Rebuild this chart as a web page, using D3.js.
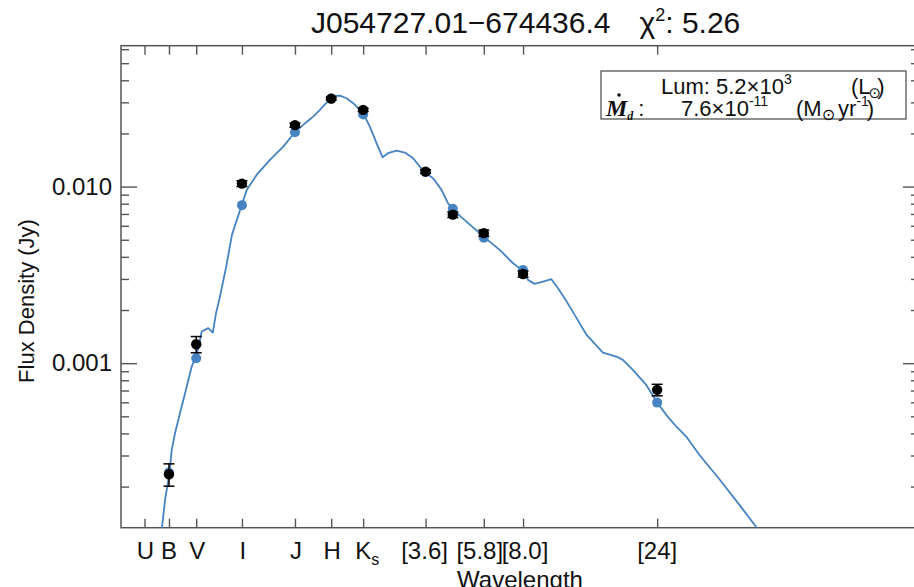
<!DOCTYPE html>
<html>
<head>
<meta charset="utf-8">
<script src="https://cdn.jsdelivr.net/npm/d3@7"></script>
<style>
  html, body { margin: 0; padding: 0; background: #fff; }
  svg { display: block; font-family: "Liberation Sans", Arial, Helvetica, sans-serif; }
</style>
</head>
<body>
<script>
// Photometric bands (observed) and SED model for J054727.01-674436.4
const bands      = ["B", "V", "I", "J", "H", "Ks", "[3.6]", "[4.5]", "[5.8]", "[8.0]", "[24]"];
const bandWave   = [0.44, 0.55, 0.80, 1.235, 1.662, 2.159, 3.6, 4.5, 5.8, 8.0, 24];
const obsFlux    = [2.35e-4, 1.28e-3, 0.0104, 0.0223, 0.0315, 0.0272, 0.01216, 0.00694, 0.00545, 0.00320, 7.06e-4];
const obsErr     = [3.4e-5, 1.35e-4, 4.0e-4, 6.0e-4, 6.0e-4, 6.0e-4, 3.0e-4, 2.5e-4, 2.2e-4, 1.3e-4, 5.3e-5];
const modelFlux  = [2.40e-4, 1.066e-3, 0.00785, 0.0203, 0.0315, 0.0256, 0.0121, 0.00748, 0.00514, 0.00337, 5.98e-4];

// Axis tick labels (band names at their effective wavelengths, microns)
const tickLabels = ["U", "B", "V", "I", "J", "H", "K", "[3.6]", "[5.8]", "[8.0]", "[24]"];
const tickWaves  = [0.36, 0.44, 0.55, 0.80, 1.235, 1.662, 2.159, 3.6, 5.8, 8.0, 24];
const yMajor     = [0.001, 0.010];
const yMajorText = ["0.001", "0.010"];

// Model spectrum sampled in wavelength (micron) and flux (Jy)
const modelWave  = [0.411,0.426,0.441,0.450,0.4625,0.482,0.509,0.530,0.545,0.560,0.575,0.607,0.630,0.647,0.664,0.702,0.737,0.798,0.832,0.902,1.006,1.122,1.235,1.321,1.396,1.434,1.515,1.600,1.689,1.784,1.885,1.989,2.159,2.281,2.409,2.530,2.649,2.837,3.038,3.251,3.548,3.828,4.102,4.328,4.487,5.031,5.845,6.607,7.367,7.931,8.330,8.800,9.417,10.09,10.65,11.34,12.21,13.47,15.39,17.17,18.12,19.67,21.95,24.01,25.85,28.05,30.45,33.95,39.98,47.1,54.27,57.8];
const modelCurve = [1.0e-4,1.68e-4,2.33e-4,3.23e-4,4.02e-4,5.24e-4,7.37e-4,9.57e-4,1.067e-3,1.216e-3,1.51e-3,1.58e-3,1.49e-3,1.92e-3,2.28e-3,3.47e-3,5.33e-3,7.85e-3,9.58e-3,0.01165,0.01417,0.01684,0.0203,0.02235,0.02408,0.02491,0.02718,0.0299,0.03264,0.03277,0.03166,0.02967,0.02603,0.02186,0.01761,0.01467,0.01546,0.01599,0.01558,0.01448,0.01216,0.01116,0.00958,0.00805,0.00745,0.00633,0.00514,0.00438,0.00368,0.003376,0.002963,0.002812,0.002897,0.002989,0.002659,0.002283,0.001877,0.001445,0.001148,0.00109,0.001044,9.16e-4,7.53e-4,5.98e-4,5.1e-4,4.38e-4,3.84e-4,3.02e-4,2.2e-4,1.576e-4,1.17e-4,1.0e-4];

const W = 914, H = 587;
const plot = { left: 121, right: 919, top: 45.7, bottom: 527.7 };
const axisColor = "#555";
const blue = "#4683c0";

const svg = d3.select("body").append("svg").attr("width", W).attr("height", H);

const x = d3.scaleLog().domain([0.297, 205]).range([plot.left, plot.right]);
const y = d3.scaleLog().domain([1.17e-4, 0.0628]).range([plot.bottom, plot.top]);

svg.append("defs").append("clipPath").attr("id", "plotClip")
  .append("rect")
  .attr("x", plot.left).attr("y", plot.top)
  .attr("width", plot.right - plot.left).attr("height", plot.bottom - plot.top);

// Minor y ticks: 2..9 times each decade
const yMinor = [];
[1e-4, 1e-3, 1e-2].forEach(dec => { for (let k = 2; k <= 9; k++) yMinor.push(k * dec); });
const yMinorIn = yMinor.filter(v => v > y.domain()[0] && v < y.domain()[1]);

function styleAxis(g) {
  g.select(".domain").remove();
  g.selectAll(".tick line").attr("stroke", axisColor).attr("stroke-width", 1.4);
}

// Left axis
svg.append("g").attr("transform", `translate(${plot.left},0)`)
  .call(d3.axisLeft(y).tickValues(yMinorIn).tickSize(-8).tickFormat(""))
  .call(styleAxis);
svg.append("g").attr("transform", `translate(${plot.left},0)`)
  .call(d3.axisLeft(y).tickValues(yMajor).tickSize(-16).tickPadding(9)
        .tickFormat((d, i) => yMajorText[i]))
  .call(styleAxis)
  .call(g => g.selectAll("text").attr("font-size", 24).attr("fill", "#111")
        .attr("font-family", "'Liberation Sans', Arial, sans-serif"));

// Right axis
svg.append("g").attr("transform", `translate(${plot.right},0)`)
  .call(d3.axisRight(y).tickValues(yMinorIn).tickSize(-8).tickFormat(""))
  .call(styleAxis);
svg.append("g").attr("transform", `translate(${plot.right},0)`)
  .call(d3.axisRight(y).tickValues(yMajor).tickSize(-16).tickFormat(""))
  .call(styleAxis);

// Bottom and top axes (band positions)
svg.append("g").attr("transform", `translate(0,${plot.bottom})`)
  .call(d3.axisBottom(x).tickValues(tickWaves).tickSize(-9).tickFormat(""))
  .call(styleAxis);
svg.append("g").attr("transform", `translate(0,${plot.top})`)
  .call(d3.axisTop(x).tickValues(tickWaves).tickSize(-9).tickFormat(""))
  .call(styleAxis);

// Frame
svg.append("rect")
  .attr("x", plot.left).attr("y", plot.top)
  .attr("width", plot.right - plot.left).attr("height", plot.bottom - plot.top)
  .attr("fill", "none").attr("stroke", axisColor).attr("stroke-width", 1.5);

// Band labels under the x axis
const labelShift = [1, 0, 1, 1, 1, 1, 4, -1, -4, 2, 0];
const xl = svg.append("g").attr("font-size", 24).attr("fill", "#111").attr("text-anchor", "middle");
tickWaves.forEach((w, i) => {
  const t = xl.append("text").attr("x", x(w) + labelShift[i]).attr("y", 559);
  t.append("tspan").text(tickLabels[i]);
  if (tickLabels[i] === "K") {
    t.append("tspan").attr("font-size", 16).attr("dy", 6).text("s");
  }
});

// Axis titles
svg.append("text")
  .attr("x", 520).attr("y", 588).attr("text-anchor", "middle")
  .attr("font-size", 24).attr("fill", "#111").text("Wavelength");
svg.append("text")
  .attr("transform", "translate(34,301) rotate(-90)")
  .attr("text-anchor", "middle").attr("font-size", 22).attr("fill", "#111")
  .text("Flux Density (Jy)");

// Title
const title = svg.append("text").attr("x", 311).attr("y", 33)
  .attr("font-size", 30).attr("fill", "#111");
title.append("tspan").text("J054727.01\u2212674436.4");
title.append("tspan").attr("dx", 29).text("\u03C7");
title.append("tspan").attr("font-size", 18).attr("dy", -12).text("2");
title.append("tspan").attr("dy", 12).text(": 5.26");

// Plot content
const gp = svg.append("g").attr("clip-path", "url(#plotClip)");

const line = d3.line().x(d => x(d[0])).y(d => y(d[1]));
gp.append("path")
  .datum(modelWave.map((w, i) => [w, modelCurve[i]]))
  .attr("d", line)
  .attr("fill", "none").attr("stroke", blue).attr("stroke-width", 1.8)
  .attr("stroke-linejoin", "round");

// Model fluxes at band wavelengths
gp.selectAll("circle.model").data(bands).join("circle")
  .attr("class", "model")
  .attr("cx", (d, i) => x(bandWave[i])).attr("cy", (d, i) => y(modelFlux[i]))
  .attr("r", 5).attr("fill", blue);

// Observed fluxes with error bars
const obs = gp.selectAll("g.obs").data(bands).join("g").attr("class", "obs");
obs.append("line")
  .attr("x1", (d, i) => x(bandWave[i])).attr("x2", (d, i) => x(bandWave[i]))
  .attr("y1", (d, i) => y(obsFlux[i] + obsErr[i])).attr("y2", (d, i) => y(obsFlux[i] - obsErr[i]))
  .attr("stroke", "#000").attr("stroke-width", 1.5);
[1, -1].forEach(s => {
  obs.append("line")
    .attr("x1", (d, i) => x(bandWave[i]) - 5.5).attr("x2", (d, i) => x(bandWave[i]) + 5.5)
    .attr("y1", (d, i) => y(obsFlux[i] + s * obsErr[i])).attr("y2", (d, i) => y(obsFlux[i] + s * obsErr[i]))
    .attr("stroke", "#000").attr("stroke-width", 1.5);
});
obs.append("circle")
  .attr("cx", (d, i) => x(bandWave[i])).attr("cy", (d, i) => y(obsFlux[i]))
  .attr("r", 5.2).attr("fill", "#000");

// Fit parameters box
const box = svg.append("g").attr("font-size", 22).attr("fill", "#111");
box.append("rect").attr("x", 601).attr("y", 71).attr("width", 305).attr("height", 48)
  .attr("fill", "#fff").attr("stroke", axisColor).attr("stroke-width", 1.3);

const sun = "\u2299";
const l1 = box.append("text").attr("x", 661).attr("y", 94);
l1.append("tspan").text("Lum: 5.2\u00D710");
l1.append("tspan").attr("font-size", 14).attr("dy", -10).text("3");
const l1b = box.append("text").attr("x", 851).attr("y", 94);
l1b.append("tspan").text("(L");
l1b.append("tspan").attr("font-family", "'DejaVu Sans'").attr("font-size", 15).attr("dy", 4).attr("dx", -2).text(sun);
l1b.append("tspan").attr("dy", -4).attr("dx", -4).text(")");

const mdot = box.append("text").attr("x", 606).attr("y", 116)
  .attr("font-family", "'Liberation Serif', 'DejaVu Serif', serif");
mdot.append("tspan").attr("font-style", "italic").attr("font-weight", "bold")
  .attr("font-size", 24).text("M");
mdot.append("tspan").attr("font-style", "italic").attr("font-weight", "bold")
  .attr("font-size", 12).attr("dy", 4).text("d");
mdot.append("tspan").attr("dy", -4).attr("dx", 5)
  .attr("font-family", "'Liberation Sans', Arial, sans-serif").text(":");
box.append("circle").attr("cx", 619).attr("cy", 95).attr("r", 1.8).attr("fill", "#111");

const l2 = box.append("text").attr("x", 681).attr("y", 116);
l2.append("tspan").text("7.6\u00D710");
l2.append("tspan").attr("font-size", 14).attr("dy", -10).text("-11");
const l2b = box.append("text").attr("x", 796).attr("y", 116);
l2b.append("tspan").text("(M");
l2b.append("tspan").attr("font-family", "'DejaVu Sans'").attr("font-size", 16).attr("dy", 4).text(sun);
l2b.append("tspan").attr("dy", -4).attr("dx", 3).text("yr");
l2b.append("tspan").attr("font-size", 14).attr("dy", -10).text("-1");
l2b.append("tspan").attr("dy", 10).attr("dx", -2).text(")");
</script>
</body>
</html>
